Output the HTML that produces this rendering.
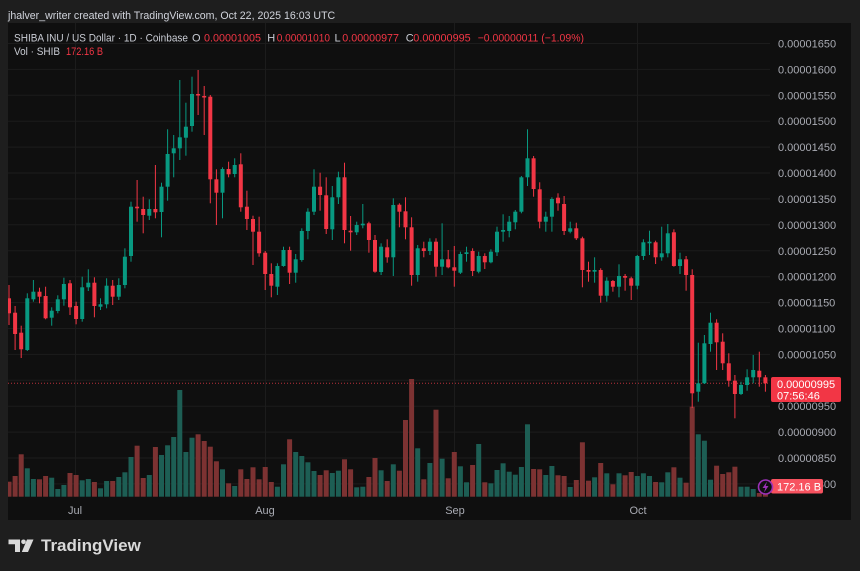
<!DOCTYPE html>
<html><head><meta charset="utf-8"><style>
html,body{margin:0;padding:0;background:#1e1e1e;}
svg{display:block;font-family:"Liberation Sans",Arial,sans-serif;}
</style></head><body>
<svg width="860" height="571" viewBox="0 0 860 571" xmlns="http://www.w3.org/2000/svg">
<rect x="0" y="0" width="860" height="571" fill="#1e1e1e"/>
<rect x="8" y="23" width="843" height="497" fill="#0f0f0f"/>
<defs><clipPath id="pl"><rect x="8" y="23" width="762" height="474"/></clipPath></defs>
<!-- grid -->
<g stroke="#1c1c1c" stroke-width="1">
<line x1="8" x2="770" y1="43.5" y2="43.5"/><line x1="8" x2="770" y1="69.4" y2="69.4"/><line x1="8" x2="770" y1="95.3" y2="95.3"/><line x1="8" x2="770" y1="121.2" y2="121.2"/><line x1="8" x2="770" y1="147.1" y2="147.1"/><line x1="8" x2="770" y1="173" y2="173"/><line x1="8" x2="770" y1="198.9" y2="198.9"/><line x1="8" x2="770" y1="224.8" y2="224.8"/><line x1="8" x2="770" y1="250.8" y2="250.8"/><line x1="8" x2="770" y1="276.7" y2="276.7"/><line x1="8" x2="770" y1="302.6" y2="302.6"/><line x1="8" x2="770" y1="328.5" y2="328.5"/><line x1="8" x2="770" y1="354.4" y2="354.4"/><line x1="8" x2="770" y1="380.3" y2="380.3"/><line x1="8" x2="770" y1="406.2" y2="406.2"/><line x1="8" x2="770" y1="432.1" y2="432.1"/><line x1="8" x2="770" y1="458" y2="458"/><line x1="8" x2="770" y1="483.9" y2="483.9"/>
<line x1="75.5" x2="75.5" y1="23" y2="497"/><line x1="265.5" x2="265.5" y1="23" y2="497"/><line x1="454.5" x2="454.5" y1="23" y2="497"/><line x1="637.5" x2="637.5" y1="23" y2="497"/>
</g>
<g clip-path="url(#pl)">
<!-- volume green -->
<g fill="#1d5e54">
<rect x="24.8" y="468.3" width="5" height="28.4"/><rect x="30.9" y="479" width="5" height="17.7"/><rect x="49.2" y="477.7" width="5" height="19"/><rect x="55.3" y="489" width="5" height="7.7"/><rect x="61.4" y="485" width="5" height="11.7"/><rect x="79.7" y="480.3" width="5" height="16.4"/><rect x="85.8" y="479" width="5" height="17.7"/><rect x="98" y="488.3" width="5" height="8.4"/><rect x="104.1" y="481" width="5" height="15.7"/><rect x="116.3" y="477" width="5" height="19.7"/><rect x="122.4" y="472.3" width="5" height="24.4"/><rect x="128.5" y="457" width="5" height="39.7"/><rect x="146.8" y="475" width="5" height="21.7"/><rect x="159" y="455" width="5" height="41.7"/><rect x="165.1" y="445.3" width="5" height="51.4"/><rect x="171.2" y="437" width="5" height="59.7"/><rect x="177.3" y="390" width="5" height="106.7"/><rect x="183.4" y="452" width="5" height="44.7"/><rect x="189.5" y="437.7" width="5" height="59"/><rect x="220" y="469.3" width="5" height="27.4"/><rect x="232.2" y="486" width="5" height="10.7"/><rect x="274.9" y="486.7" width="5" height="10"/><rect x="281" y="464.3" width="5" height="32.4"/><rect x="293.2" y="452" width="5" height="44.7"/><rect x="299.3" y="456" width="5" height="40.7"/><rect x="305.4" y="462.3" width="5" height="34.4"/><rect x="311.5" y="471" width="5" height="25.7"/><rect x="329.8" y="473" width="5" height="23.7"/><rect x="335.9" y="470.7" width="5" height="26"/><rect x="354.2" y="487.3" width="5" height="9.4"/><rect x="360.3" y="486.7" width="5" height="10"/><rect x="378.6" y="470.3" width="5" height="26.4"/><rect x="390.8" y="464.3" width="5" height="32.4"/><rect x="415.2" y="448.3" width="5" height="48.4"/><rect x="427.4" y="463" width="5" height="33.7"/><rect x="439.6" y="458.7" width="5" height="38"/><rect x="457.9" y="466.3" width="5" height="30.4"/><rect x="464" y="482.3" width="5" height="14.4"/><rect x="476.2" y="444" width="5" height="52.7"/><rect x="488.4" y="483.3" width="5" height="13.4"/><rect x="494.5" y="470" width="5" height="26.7"/><rect x="500.6" y="463.3" width="5" height="33.4"/><rect x="506.7" y="471.7" width="5" height="25"/><rect x="512.8" y="474.7" width="5" height="22"/><rect x="518.9" y="467" width="5" height="29.7"/><rect x="525" y="424.3" width="5" height="72.4"/><rect x="543.3" y="475" width="5" height="21.7"/><rect x="549.4" y="466" width="5" height="30.7"/><rect x="567.7" y="487" width="5" height="9.7"/><rect x="592.1" y="477.3" width="5" height="19.4"/><rect x="604.3" y="473.3" width="5" height="23.4"/><rect x="616.5" y="473.3" width="5" height="23.4"/><rect x="634.8" y="476" width="5" height="20.7"/><rect x="640.9" y="473.3" width="5" height="23.4"/><rect x="647" y="476" width="5" height="20.7"/><rect x="659.2" y="482.3" width="5" height="14.4"/><rect x="665.3" y="472.3" width="5" height="24.4"/><rect x="677.5" y="477.7" width="5" height="19"/><rect x="695.8" y="434.3" width="5" height="62.4"/><rect x="701.9" y="440.7" width="5" height="56"/><rect x="708" y="479.7" width="5" height="17"/><rect x="738.5" y="486.7" width="5" height="10"/><rect x="744.6" y="486.7" width="5" height="10"/><rect x="750.7" y="489" width="5" height="7.7"/>
</g>
<!-- volume red -->
<g fill="#7c3232">
<rect x="6.5" y="481.7" width="5" height="15"/><rect x="12.6" y="476" width="5" height="20.7"/><rect x="18.7" y="454.3" width="5" height="42.4"/><rect x="37" y="479.3" width="5" height="17.4"/><rect x="43.1" y="476" width="5" height="20.7"/><rect x="67.5" y="473" width="5" height="23.7"/><rect x="73.6" y="475" width="5" height="21.7"/><rect x="91.9" y="482" width="5" height="14.7"/><rect x="110.2" y="481" width="5" height="15.7"/><rect x="134.6" y="445.7" width="5" height="51"/><rect x="140.7" y="478" width="5" height="18.7"/><rect x="152.9" y="447" width="5" height="49.7"/><rect x="195.6" y="434.3" width="5" height="62.4"/><rect x="201.7" y="441" width="5" height="55.7"/><rect x="207.8" y="446.7" width="5" height="50"/><rect x="213.9" y="461.3" width="5" height="35.4"/><rect x="226.1" y="483.3" width="5" height="13.4"/><rect x="238.3" y="469.3" width="5" height="27.4"/><rect x="244.4" y="479" width="5" height="17.7"/><rect x="250.5" y="467.3" width="5" height="29.4"/><rect x="256.6" y="479.3" width="5" height="17.4"/><rect x="262.7" y="467" width="5" height="29.7"/><rect x="268.8" y="482" width="5" height="14.7"/><rect x="287.1" y="439.3" width="5" height="57.4"/><rect x="317.6" y="475" width="5" height="21.7"/><rect x="323.7" y="470.3" width="5" height="26.4"/><rect x="342" y="459.3" width="5" height="37.4"/><rect x="348.1" y="469.3" width="5" height="27.4"/><rect x="366.4" y="477" width="5" height="19.7"/><rect x="372.5" y="458" width="5" height="38.7"/><rect x="384.7" y="481" width="5" height="15.7"/><rect x="396.9" y="470.7" width="5" height="26"/><rect x="403" y="420" width="5" height="76.7"/><rect x="409.1" y="379" width="5" height="117.7"/><rect x="421.3" y="479.3" width="5" height="17.4"/><rect x="433.5" y="409.7" width="5" height="87"/><rect x="445.7" y="478.3" width="5" height="18.4"/><rect x="451.8" y="452" width="5" height="44.7"/><rect x="470.1" y="465" width="5" height="31.7"/><rect x="482.3" y="482.3" width="5" height="14.4"/><rect x="531.1" y="469" width="5" height="27.7"/><rect x="537.2" y="469.3" width="5" height="27.4"/><rect x="555.5" y="475.3" width="5" height="21.4"/><rect x="561.6" y="476" width="5" height="20.7"/><rect x="573.8" y="480" width="5" height="16.7"/><rect x="579.9" y="442.3" width="5" height="54.4"/><rect x="586" y="480.7" width="5" height="16"/><rect x="598.2" y="463" width="5" height="33.7"/><rect x="610.4" y="484.3" width="5" height="12.4"/><rect x="622.6" y="475.3" width="5" height="21.4"/><rect x="628.7" y="472" width="5" height="24.7"/><rect x="653.1" y="482" width="5" height="14.7"/><rect x="671.4" y="467.3" width="5" height="29.4"/><rect x="683.6" y="482.7" width="5" height="14"/><rect x="689.7" y="406.7" width="5" height="90"/><rect x="714.1" y="465.7" width="5" height="31"/><rect x="720.2" y="474" width="5" height="22.7"/><rect x="726.3" y="472.3" width="5" height="24.4"/><rect x="732.4" y="466.7" width="5" height="30"/><rect x="756.8" y="493" width="5" height="3.7"/><rect x="762.9" y="490" width="5" height="6.7"/>
</g>
<!-- current price dotted line -->
<line x1="8" x2="770" y1="383.3" y2="383.3" stroke="#b8303b" stroke-width="1" stroke-dasharray="1 2"/>
<!-- green candles -->
<g fill="#089981">
<rect x="26.8" y="293.3" width="1" height="57.7"/><rect x="25.3" y="298.3" width="4" height="51.7"/>
<rect x="32.9" y="280" width="1" height="21.7"/><rect x="31.4" y="291.7" width="4" height="7.6"/>
<rect x="51.2" y="307.3" width="1" height="18.4"/><rect x="49.7" y="310.7" width="4" height="7"/>
<rect x="57.3" y="295.3" width="1" height="18"/><rect x="55.8" y="299.3" width="4" height="11.7"/>
<rect x="63.4" y="277.7" width="1" height="28"/><rect x="61.9" y="284" width="4" height="15.3"/>
<rect x="81.7" y="276.7" width="1" height="45"/><rect x="80.2" y="287.3" width="4" height="31.7"/>
<rect x="87.8" y="269.3" width="1" height="21.7"/><rect x="86.3" y="282.7" width="4" height="4.6"/>
<rect x="100" y="298.3" width="1" height="11.7"/><rect x="98.5" y="304.3" width="4" height="2.4"/>
<rect x="106.1" y="278.3" width="1" height="30"/><rect x="104.6" y="285.7" width="4" height="18.6"/>
<rect x="118.3" y="278.3" width="1" height="21.7"/><rect x="116.8" y="285" width="4" height="11.7"/>
<rect x="124.4" y="248.3" width="1" height="40"/><rect x="122.9" y="256.7" width="4" height="28.3"/>
<rect x="130.5" y="201.7" width="1" height="60"/><rect x="129" y="206.7" width="4" height="49.3"/>
<rect x="148.8" y="199.3" width="1" height="20.7"/><rect x="147.3" y="209" width="4" height="6.7"/>
<rect x="161" y="182.7" width="1" height="54.6"/><rect x="159.5" y="186.7" width="4" height="25.3"/>
<rect x="167.1" y="129.3" width="1" height="71.4"/><rect x="165.6" y="154" width="4" height="32.7"/>
<rect x="173.2" y="135" width="1" height="42.3"/><rect x="171.7" y="148.3" width="4" height="5"/>
<rect x="179.3" y="80" width="1" height="80"/><rect x="177.8" y="137.3" width="4" height="11"/>
<rect x="185.4" y="102.7" width="1" height="53"/><rect x="183.9" y="126.7" width="4" height="11"/>
<rect x="191.5" y="76.7" width="1" height="55"/><rect x="190" y="94" width="4" height="32"/>
<rect x="222" y="167.3" width="1" height="51"/><rect x="220.5" y="169" width="4" height="23.7"/>
<rect x="234.2" y="158.3" width="1" height="19"/><rect x="232.7" y="165" width="4" height="9"/>
<rect x="276.9" y="263.3" width="1" height="31.7"/><rect x="275.4" y="266" width="4" height="20.7"/>
<rect x="283" y="246.7" width="1" height="20"/><rect x="281.5" y="250" width="4" height="16"/>
<rect x="295.2" y="254" width="1" height="28.7"/><rect x="293.7" y="259.3" width="4" height="13.4"/>
<rect x="301.3" y="228.3" width="1" height="33.4"/><rect x="299.8" y="231" width="4" height="29"/>
<rect x="307.4" y="208.3" width="1" height="31"/><rect x="305.9" y="211.7" width="4" height="19.3"/>
<rect x="313.5" y="169.3" width="1" height="45.7"/><rect x="312" y="186.7" width="4" height="25"/>
<rect x="331.8" y="186" width="1" height="54"/><rect x="330.3" y="197.3" width="4" height="32"/>
<rect x="337.9" y="171.7" width="1" height="32.3"/><rect x="336.4" y="177.3" width="4" height="20"/>
<rect x="356.2" y="221.7" width="1" height="13.3"/><rect x="354.7" y="225" width="4" height="7.3"/>
<rect x="362.3" y="204" width="1" height="24.3"/><rect x="360.8" y="223.7" width="4" height="1.6"/>
<rect x="380.6" y="243.3" width="1" height="31.7"/><rect x="379.1" y="246.7" width="4" height="25.3"/>
<rect x="392.8" y="198.3" width="1" height="77.7"/><rect x="391.3" y="205" width="4" height="52.3"/>
<rect x="417.2" y="245" width="1" height="36.7"/><rect x="415.7" y="248.3" width="4" height="26.7"/>
<rect x="429.4" y="238.3" width="1" height="16.7"/><rect x="427.9" y="241.7" width="4" height="9.3"/>
<rect x="441.6" y="223.3" width="1" height="51.7"/><rect x="440.1" y="259.3" width="4" height="7.4"/>
<rect x="459.9" y="251.7" width="1" height="22.3"/><rect x="458.4" y="254" width="4" height="18.7"/>
<rect x="466" y="246.7" width="1" height="15"/><rect x="464.5" y="252.3" width="4" height="1.7"/>
<rect x="478.2" y="251.7" width="1" height="21.6"/><rect x="476.7" y="256" width="4" height="15.7"/>
<rect x="490.4" y="249.3" width="1" height="14"/><rect x="488.9" y="251.7" width="4" height="10.6"/>
<rect x="496.5" y="226.7" width="1" height="29.3"/><rect x="495" y="231.7" width="4" height="20.6"/>
<rect x="502.6" y="214.3" width="1" height="27.4"/><rect x="501.1" y="230" width="4" height="1.7"/>
<rect x="508.7" y="216" width="1" height="21.3"/><rect x="507.2" y="221.7" width="4" height="9.3"/>
<rect x="514.8" y="210" width="1" height="19.3"/><rect x="513.3" y="211.7" width="4" height="10.6"/>
<rect x="520.9" y="176" width="1" height="37.3"/><rect x="519.4" y="177.3" width="4" height="34.4"/>
<rect x="527" y="129.3" width="1" height="56.7"/><rect x="525.5" y="158.3" width="4" height="19"/>
<rect x="545.3" y="211.7" width="1" height="20"/><rect x="543.8" y="216.7" width="4" height="5"/>
<rect x="551.4" y="197.3" width="1" height="34.4"/><rect x="549.9" y="199" width="4" height="17.7"/>
<rect x="569.7" y="221.7" width="1" height="11.6"/><rect x="568.2" y="228.3" width="4" height="3.4"/>
<rect x="594.1" y="257.3" width="1" height="25.4"/><rect x="592.6" y="270" width="4" height="1.7"/>
<rect x="606.3" y="277.3" width="1" height="24.4"/><rect x="604.8" y="280.7" width="4" height="15"/>
<rect x="618.5" y="264.3" width="1" height="33"/><rect x="617" y="276" width="4" height="10.7"/>
<rect x="636.8" y="255" width="1" height="34.3"/><rect x="635.3" y="256" width="4" height="29.7"/>
<rect x="642.9" y="239.3" width="1" height="20.7"/><rect x="641.4" y="242.3" width="4" height="13.7"/>
<rect x="649" y="230.7" width="1" height="24.3"/><rect x="647.5" y="241.7" width="4" height="1.6"/>
<rect x="661.2" y="226.7" width="1" height="34"/><rect x="659.7" y="253.3" width="4" height="4"/>
<rect x="667.3" y="224" width="1" height="33.3"/><rect x="665.8" y="233.3" width="4" height="20"/>
<rect x="679.5" y="252.7" width="1" height="21.3"/><rect x="678" y="259.3" width="4" height="6.7"/>
<rect x="697.8" y="342.7" width="1" height="59"/><rect x="696.3" y="383.3" width="4" height="8.4"/>
<rect x="703.9" y="335" width="1" height="49"/><rect x="702.4" y="343.3" width="4" height="40"/>
<rect x="710" y="312.7" width="1" height="39"/><rect x="708.5" y="322.7" width="4" height="21.3"/>
<rect x="740.5" y="381.7" width="1" height="13.3"/><rect x="739" y="385" width="4" height="9"/>
<rect x="746.6" y="369.3" width="1" height="21.4"/><rect x="745.1" y="377.3" width="4" height="7.7"/>
<rect x="752.7" y="355" width="1" height="28.3"/><rect x="751.2" y="370" width="4" height="7.3"/>
</g>
<!-- red candles -->
<g fill="#f23645">
<rect x="8.5" y="285" width="1" height="40"/><rect x="7" y="298.3" width="4" height="15"/>
<rect x="14.6" y="306" width="1" height="44"/><rect x="13.1" y="312.7" width="4" height="21.3"/>
<rect x="20.7" y="325.7" width="1" height="32.3"/><rect x="19.2" y="332.7" width="4" height="16.6"/>
<rect x="39" y="287.7" width="1" height="15.6"/><rect x="37.5" y="291.7" width="4" height="5"/>
<rect x="45.1" y="286.7" width="1" height="32.6"/><rect x="43.6" y="296" width="4" height="22.3"/>
<rect x="69.5" y="280" width="1" height="35"/><rect x="68" y="283.3" width="4" height="24"/>
<rect x="75.6" y="301.7" width="1" height="22.6"/><rect x="74.1" y="306" width="4" height="13"/>
<rect x="93.9" y="277.3" width="1" height="40"/><rect x="92.4" y="282.7" width="4" height="23.3"/>
<rect x="112.2" y="280" width="1" height="25"/><rect x="110.7" y="285.7" width="4" height="11"/>
<rect x="136.6" y="180" width="1" height="41.7"/><rect x="135.1" y="206.7" width="4" height="1.6"/>
<rect x="142.7" y="196.7" width="1" height="36.6"/><rect x="141.2" y="209" width="4" height="6"/>
<rect x="154.9" y="165" width="1" height="53.3"/><rect x="153.4" y="209" width="4" height="3.3"/>
<rect x="197.6" y="70" width="1" height="45"/><rect x="196.1" y="94" width="4" height="1.5"/>
<rect x="203.7" y="86" width="1" height="49"/><rect x="202.2" y="96" width="4" height="1.5"/>
<rect x="209.8" y="95" width="1" height="108.3"/><rect x="208.3" y="96.7" width="4" height="82.6"/>
<rect x="215.9" y="169.3" width="1" height="55.7"/><rect x="214.4" y="179.3" width="4" height="13.4"/>
<rect x="228.1" y="161.7" width="1" height="15.6"/><rect x="226.6" y="169" width="4" height="5.3"/>
<rect x="240.3" y="153.3" width="1" height="58.4"/><rect x="238.8" y="164.3" width="4" height="43"/>
<rect x="246.4" y="190.7" width="1" height="39.3"/><rect x="244.9" y="206.7" width="4" height="12.3"/>
<rect x="252.5" y="215.7" width="1" height="49.3"/><rect x="251" y="219" width="4" height="12.7"/>
<rect x="258.6" y="216.7" width="1" height="40"/><rect x="257.1" y="231.7" width="4" height="21.6"/>
<rect x="264.7" y="251" width="1" height="39"/><rect x="263.2" y="252.7" width="4" height="21.3"/>
<rect x="270.8" y="263.3" width="1" height="34"/><rect x="269.3" y="274" width="4" height="11.7"/>
<rect x="289.1" y="246.7" width="1" height="37.3"/><rect x="287.6" y="250" width="4" height="22.7"/>
<rect x="319.6" y="172.7" width="1" height="38"/><rect x="318.1" y="186.7" width="4" height="8.3"/>
<rect x="325.7" y="177.3" width="1" height="56.7"/><rect x="324.2" y="195.3" width="4" height="33.7"/>
<rect x="344" y="162.7" width="1" height="80.6"/><rect x="342.5" y="177.3" width="4" height="52.7"/>
<rect x="350.1" y="216" width="1" height="34.7"/><rect x="348.6" y="230.7" width="4" height="1.6"/>
<rect x="368.4" y="221.7" width="1" height="31"/><rect x="366.9" y="223.3" width="4" height="16.7"/>
<rect x="374.5" y="235" width="1" height="37.7"/><rect x="373" y="240" width="4" height="31.7"/>
<rect x="386.7" y="239.3" width="1" height="23.4"/><rect x="385.2" y="247.3" width="4" height="10"/>
<rect x="398.9" y="203.3" width="1" height="24"/><rect x="397.4" y="204.7" width="4" height="7"/>
<rect x="405" y="197.3" width="1" height="42"/><rect x="403.5" y="211.3" width="4" height="16"/>
<rect x="411.1" y="217.3" width="1" height="68.4"/><rect x="409.6" y="227.3" width="4" height="47.7"/>
<rect x="423.3" y="241.7" width="1" height="15.6"/><rect x="421.8" y="248.3" width="4" height="2.7"/>
<rect x="435.5" y="238.3" width="1" height="38.4"/><rect x="434" y="241.7" width="4" height="25"/>
<rect x="447.7" y="250" width="1" height="18.3"/><rect x="446.2" y="259.3" width="4" height="8"/>
<rect x="453.8" y="246" width="1" height="40.7"/><rect x="452.3" y="267.3" width="4" height="3.4"/>
<rect x="472.1" y="248.3" width="1" height="27.7"/><rect x="470.6" y="251" width="4" height="20"/>
<rect x="484.3" y="253.3" width="1" height="15.7"/><rect x="482.8" y="256" width="4" height="6.3"/>
<rect x="533.1" y="156" width="1" height="40.7"/><rect x="531.6" y="158.3" width="4" height="30.7"/>
<rect x="539.2" y="182.3" width="1" height="46"/><rect x="537.7" y="189.3" width="4" height="32.4"/>
<rect x="557.5" y="193.3" width="1" height="17.4"/><rect x="556" y="197.7" width="4" height="5.6"/>
<rect x="563.6" y="196" width="1" height="39"/><rect x="562.1" y="204" width="4" height="27"/>
<rect x="575.8" y="222.7" width="1" height="17.3"/><rect x="574.3" y="228.3" width="4" height="10"/>
<rect x="581.9" y="236.7" width="1" height="50.6"/><rect x="580.4" y="238.3" width="4" height="31.7"/>
<rect x="588" y="261.7" width="1" height="20"/><rect x="586.5" y="270" width="4" height="1.7"/>
<rect x="600.2" y="268.3" width="1" height="34.4"/><rect x="598.7" y="270" width="4" height="25.7"/>
<rect x="612.4" y="280" width="1" height="11.7"/><rect x="610.9" y="281" width="4" height="5.7"/>
<rect x="624.6" y="274" width="1" height="16.7"/><rect x="623.1" y="276" width="4" height="1.7"/>
<rect x="630.7" y="276.7" width="1" height="23.3"/><rect x="629.2" y="278.3" width="4" height="7.4"/>
<rect x="655.1" y="240.7" width="1" height="23.3"/><rect x="653.6" y="242.3" width="4" height="15"/>
<rect x="673.4" y="229.3" width="1" height="37.4"/><rect x="671.9" y="232.3" width="4" height="33.7"/>
<rect x="685.6" y="256" width="1" height="34.7"/><rect x="684.1" y="259.3" width="4" height="15.7"/>
<rect x="691.7" y="269.3" width="1" height="138.7"/><rect x="690.2" y="275" width="4" height="118.3"/>
<rect x="716.1" y="319.3" width="1" height="50.7"/><rect x="714.6" y="322.7" width="4" height="19.6"/>
<rect x="722.2" y="333.3" width="1" height="36.7"/><rect x="720.7" y="341.7" width="4" height="21.6"/>
<rect x="728.3" y="353.3" width="1" height="33.4"/><rect x="726.8" y="363.3" width="4" height="17.4"/>
<rect x="734.4" y="375" width="1" height="43.3"/><rect x="732.9" y="380.7" width="4" height="13.3"/>
<rect x="758.8" y="351.7" width="1" height="35"/><rect x="757.3" y="370.7" width="4" height="6.6"/>
<rect x="764.9" y="375" width="1" height="16.7"/><rect x="763.4" y="377.3" width="4" height="6"/>
</g>
</g>
<!-- price axis labels -->
<g fill="#a9abb3" font-size="11">
<text x="778" y="47.5">0.00001650</text><text x="778" y="73.4">0.00001600</text><text x="778" y="99.3">0.00001550</text><text x="778" y="125.2">0.00001500</text><text x="778" y="151.1">0.00001450</text><text x="778" y="177">0.00001400</text><text x="778" y="202.9">0.00001350</text><text x="778" y="228.8">0.00001300</text><text x="778" y="254.8">0.00001250</text><text x="778" y="280.7">0.00001200</text><text x="778" y="306.6">0.00001150</text><text x="778" y="332.5">0.00001100</text><text x="778" y="358.4">0.00001050</text><text x="778" y="410.2">0.00000950</text><text x="778" y="436.1">0.00000900</text><text x="778" y="462">0.00000850</text><text x="778" y="487.9">0.00000800</text>
</g>
<!-- current price label -->
<rect x="771" y="377" width="70" height="25" rx="2" fill="#f23645"/>
<text x="777" y="388" font-size="11" fill="#ffffff">0.00000995</text>
<text x="777" y="399.5" font-size="11" fill="#ffffff">07:56:46</text>
<!-- volume label -->
<rect x="771" y="479" width="52" height="14.5" rx="2" fill="#f7525f"/>
<text x="777" y="490.5" font-size="11" fill="#ffffff">172.16 B</text>
<!-- lightning icon -->
<circle cx="765.5" cy="487" r="7" fill="#0f0f0f" stroke="#9b30b8" stroke-width="1.6"/>
<path d="M767 481.5 L762.5 488 H765.3 L764 492.5 L768.5 486 H765.7 Z" fill="#9b30b8"/>
<!-- time axis labels -->
<g fill="#a9abb3" font-size="11" text-anchor="middle">
<text x="75" y="514">Jul</text><text x="265" y="514">Aug</text><text x="455" y="514">Sep</text><text x="638" y="514">Oct</text>
</g>
<!-- header -->
<text x="8" y="19" font-size="10.6" fill="#d1d4dc">jhalver_writer created with TradingView.com, Oct 22, 2025 16:03 UTC</text>
<!-- legend -->
<g font-size="11">
<text x="14" y="41.5" fill="#c9ccd4" textLength="174" lengthAdjust="spacingAndGlyphs">SHIBA INU / US Dollar · 1D · Coinbase</text>
<text x="192" y="41.5" fill="#c9ccd4">O</text><text x="204" y="41.5" fill="#f23645" textLength="57" lengthAdjust="spacingAndGlyphs">0.00001005</text>
<text x="267.3" y="41.5" fill="#c9ccd4">H</text><text x="276.7" y="41.5" fill="#f23645" textLength="53.3" lengthAdjust="spacingAndGlyphs">0.00001010</text>
<text x="334.5" y="41.5" fill="#c9ccd4">L</text><text x="342.3" y="41.5" fill="#f23645" textLength="56.7" lengthAdjust="spacingAndGlyphs">0.00000977</text>
<text x="405.7" y="41.5" fill="#c9ccd4">C</text><text x="413.3" y="41.5" fill="#f23645" textLength="57.4" lengthAdjust="spacingAndGlyphs">0.00000995</text>
<text x="477.7" y="41.5" fill="#f23645" textLength="106.3" lengthAdjust="spacingAndGlyphs">−0.00000011 (−1.09%)</text>
<text x="14" y="55" fill="#c9ccd4" textLength="46" lengthAdjust="spacingAndGlyphs">Vol · SHIB</text>
<text x="66" y="55" fill="#f23645" textLength="37" lengthAdjust="spacingAndGlyphs">172.16 B</text>
</g>
<!-- TradingView logo -->
<g fill="#d9d9d9">
<path d="M8.5 539.5 H20 V552 H15 V544.3 H8.5 Z"/>
<circle cx="23.5" cy="541.8" r="2.3"/>
<path d="M27 539.5 H33.5 L28 552 H21.8 Z"/>
<text x="41" y="551" font-size="17" font-weight="bold">TradingView</text>
</g>
</svg>
</body></html>
